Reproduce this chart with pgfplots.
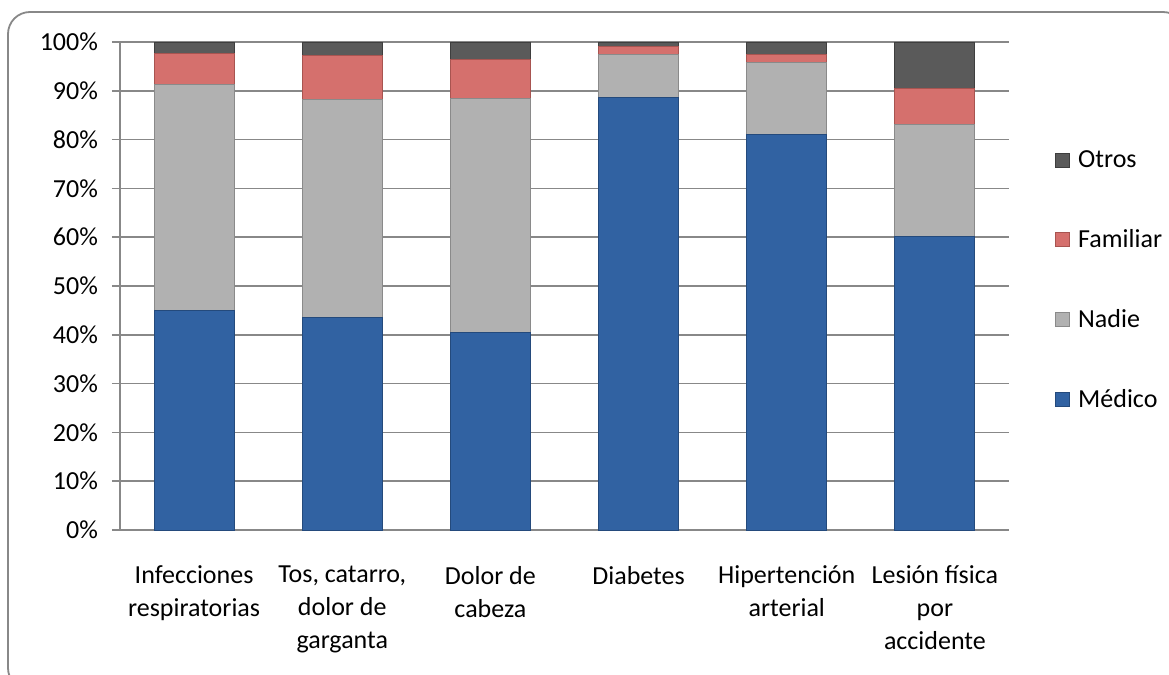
\documentclass[border=0pt]{standalone}
\usepackage{pgfplots}
\pgfplotsset{compat=1.18}
\usepackage{fontspec}
\setmainfont{Carlito}
\definecolor{medico}{HTML}{3162A2}
\definecolor{medicoD}{HTML}{244A7C}
\definecolor{nadie}{HTML}{B1B1B1}
\definecolor{nadieD}{HTML}{8A8A8A}
\definecolor{familiar}{HTML}{D5706D}
\definecolor{familiarD}{HTML}{A85450}
\definecolor{otros}{HTML}{5A5A5A}
\definecolor{otrosD}{HTML}{3E3E3E}
\definecolor{axgray}{HTML}{888888}
\begin{document}
\begin{tikzpicture}
\useasboundingbox (-60pt,-72.5pt) rectangle (524.5pt,265pt);
\draw[axgray, line width=0.9pt, rounded corners=11pt] (-56pt,-80pt) rectangle (532.5pt,259pt);
\begin{axis}[
  at={(0pt,0pt)}, anchor=south west,
  scale only axis, width=444.5pt, height=244pt,
  ybar stacked, bar width=40pt,
  xmin=-0.5, xmax=5.5, ymin=0, ymax=100,
  axis x line=bottom, axis y line=left,
  axis line style={axgray, line width=0.8pt, -},
  ytick={0,10,...,100},
  yticklabel={\pgfmathprintnumber{\tick}\%},
  /pgf/number format/assume math mode=true,
  ymajorgrids, grid style={axgray, line width=0.8pt},
  xtick={0,1,2,3,4,5},
  xticklabels={{Infecciones\\respiratorias},{Tos, catarro,\\dolor de\\garganta},{Dolor de\\cabeza},{Diabetes},{Hipertenci\'on\\arterial},{Lesi\'on f\'isica\\por\\accidente}},
  minor xtick={-0.5,0.5,...,5.5},
  tick align=outside,
  major tick length=4pt, minor tick length=4pt,
  xtick style={draw=none},
  minor x tick style={axgray, line width=0.8pt},
  ytick style={axgray, line width=0.8pt},
  tick label style={font=\fontsize{13}{16.5}\selectfont, text=black},
  xticklabel style={align=center, yshift=-10.5pt},
  yticklabel style={xshift=-3.5pt},
  legend style={at={(1.045,0.512)}, anchor=west, draw=none, fill=none,
    font=\fontsize{13}{16.5}\selectfont, row sep=25.5pt,
    /tikz/every odd column/.append style={column sep=2pt}},
  legend cell align=left,
  reverse legend,
  legend image code/.code={\draw[#1, line width=0.4pt] (0pt,-3.5pt) rectangle (7pt,3.5pt);},
]
\addplot[fill=medico, draw=medicoD, line width=0.5pt] coordinates {(0,45) (1,43.5) (2,40.4) (3,88.6) (4,81) (5,60.2)};
\addplot[fill=nadie, draw=nadieD, line width=0.5pt] coordinates {(0,46.2) (1,44.8) (2,48) (3,8.9) (4,14.8) (5,22.9)};
\addplot[fill=familiar, draw=familiarD, line width=0.5pt] coordinates {(0,6.5) (1,9) (2,8.1) (3,1.5) (4,1.7) (5,7.3)};
\addplot[fill=otros, draw=otrosD, line width=0.5pt] coordinates {(0,2.3) (1,2.7) (2,3.5) (3,1.0) (4,2.5) (5,9.6)};
\legend{M\'edico,Nadie,Familiar,Otros}
\end{axis}
\end{tikzpicture}
\end{document}
